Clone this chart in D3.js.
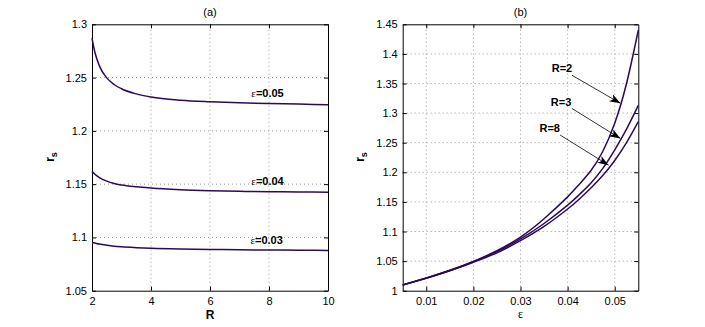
<!DOCTYPE html>
<html>
<head>
<meta charset="utf-8">
<script src="https://cdn.jsdelivr.net/npm/d3@7/dist/d3.min.js"></script>
<style>
body { margin: 0; background: #fff; }
text { font-family: "Liberation Sans", Arial, Helvetica, sans-serif; }
</style>
</head>
<body>
<svg></svg>
<script>
// ---- panel (a): r_s against R for three eps values
var rValues = [2, 2.1, 2.25, 2.5, 2.75, 3, 3.5, 4, 5, 6, 7, 8, 9, 10]
var rsEps05 = [1.287, 1.2735, 1.261, 1.2497, 1.2435, 1.2395, 1.2347, 1.2318, 1.2288, 1.2273, 1.2263, 1.2256, 1.2251, 1.2246]
var rsEps04 = [1.162, 1.1593, 1.1562, 1.1528, 1.1506, 1.1492, 1.1475, 1.1463, 1.1448, 1.1439, 1.1433, 1.1429, 1.1427, 1.1425]
var rsEps03 = [1.0953, 1.0947, 1.0938, 1.0927, 1.0918, 1.0912, 1.0904, 1.0898, 1.0891, 1.0887, 1.0884, 1.0882, 1.0880, 1.0878]
var epsLabels = ["0.05", "0.04", "0.03"]
// label centres in data units [R, r_s]
var epsLabelPos = [[7.95, 1.2356], [7.95, 1.1524], [7.92, 1.0978]]
var aXTicks = [2, 4, 6, 8, 10]
var aYTicks = [1.05, 1.1, 1.15, 1.2, 1.25, 1.3]

// ---- panel (b): r_s against eps for three R values
var epsValues = [0.005, 0.01, 0.015, 0.02, 0.025, 0.03, 0.035, 0.04, 0.0425, 0.045, 0.0475, 0.05, 0.0525, 0.055]
var rsR2 = [1.0096, 1.0215, 1.0345, 1.0495, 1.0675, 1.0905, 1.1215, 1.1585, 1.180, 1.2035, 1.236, 1.283, 1.350, 1.44]
var rsR3 = [1.0096, 1.0212, 1.034, 1.049, 1.066, 1.0875, 1.1135, 1.1445, 1.1625, 1.1825, 1.207, 1.238, 1.273, 1.313]
var rsR8 = [1.0096, 1.021, 1.0335, 1.048, 1.064, 1.0845, 1.1085, 1.138, 1.155, 1.174, 1.195, 1.220, 1.250, 1.2855]
var rLabels = ["R=2", "R=3", "R=8"]
// annotation: label centre, arrow start, arrow tip (data units [eps, r_s])
var rLabelPos = [[0.0388, 1.376], [0.0386, 1.3193], [0.0362, 1.2743]]
var rArrowFrom = [[0.0409, 1.364], [0.0409, 1.308], [0.0384, 1.263]]
var rArrowTo = [[0.0512, 1.3166], [0.0512, 1.257], [0.0487, 1.212]]
var bXTicks = [0.01, 0.02, 0.03, 0.04, 0.05]
var bYTicks = [1, 1.05, 1.1, 1.15, 1.2, 1.25, 1.3, 1.35, 1.4, 1.45]

var width = 705
var height = 327
var lineColor = "#2c0a5a"
var plotTop = 24.3, plotBottom = 290.7

var svg = d3.select('svg').attr('width', width).attr('height', height)

svg.append('defs').append('marker')
  .attr('id', 'head')
  .attr('markerUnits', 'userSpaceOnUse')
  .attr('markerWidth', 11)
  .attr('markerHeight', 8)
  .attr('refX', 11)
  .attr('refY', 4)
  .attr('orient', 'auto')
  .append('path')
  .attr('d', 'M0,0 L11,4 L0,8 L3,4 z')
  .attr('fill', '#000')

function fmt(v) {
  return String(+v.toFixed(2))
}

function drawFrame(g, x, y, xTicks, yTicks) {
  var x0 = x.range()[0], x1 = x.range()[1]
  var y0 = y.range()[0], y1 = y.range()[1]
  // dotted grid
  g.append('g').selectAll('line')
    .data(xTicks.filter(function(t) { return x(t) > x0 + 1 && x(t) < x1 - 1 }))
    .enter().append('line')
    .attr('x1', function(t) { return x(t) }).attr('x2', function(t) { return x(t) })
    .attr('y1', y0).attr('y2', y1)
    .attr('stroke', '#999').attr('stroke-dasharray', '1,3')
  g.append('g').selectAll('line')
    .data(yTicks.filter(function(t) { return y(t) < y0 - 1 && y(t) > y1 + 1 }))
    .enter().append('line')
    .attr('y1', function(t) { return y(t) }).attr('y2', function(t) { return y(t) })
    .attr('x1', x0).attr('x2', x1)
    .attr('stroke', '#999').attr('stroke-dasharray', '1,3')
  // axes with inward ticks, mirrored on top and right
  var axB = g.append('g').attr('transform', 'translate(0,' + y0 + ')')
    .call(d3.axisBottom(x).tickValues(xTicks).tickSizeInner(-4).tickSizeOuter(0).tickPadding(7).tickFormat(fmt))
  var axT = g.append('g').attr('transform', 'translate(0,' + y1 + ')')
    .call(d3.axisTop(x).tickValues(xTicks).tickSizeInner(-4).tickSizeOuter(0).tickFormat(''))
  var axL = g.append('g').attr('transform', 'translate(' + x0 + ',0)')
    .call(d3.axisLeft(y).tickValues(yTicks).tickSizeInner(-4).tickSizeOuter(0).tickPadding(5).tickFormat(fmt))
  var axR = g.append('g').attr('transform', 'translate(' + x1 + ',0)')
    .call(d3.axisRight(y).tickValues(yTicks).tickSizeInner(-4).tickSizeOuter(0).tickFormat(''))
  ;[axB, axT, axL, axR].forEach(function(a) {
    a.selectAll('text').attr('font-size', 11).attr('fill', '#000')
      .style('font-family', '"Liberation Sans", Arial, sans-serif')
    a.selectAll('line').attr('stroke', '#000')
    a.select('.domain').attr('stroke', '#000')
  })
}

function drawCurves(g, x, y, xs, seriesList, curve) {
  var line = d3.line()
    .x(function(d) { return x(d[0]) })
    .y(function(d) { return y(d[1]) })
    .curve(curve)
  g.append('g').selectAll('path')
    .data(seriesList)
    .enter().append('path')
    .attr('d', function(s) {
      return line(xs.map(function(v, i) { return [v, s[i]] }))
    })
    .attr('fill', 'none')
    .attr('stroke', lineColor)
    .attr('stroke-width', 1.5)
}

function ylabel(g, cx, cy) {
  var t = g.append('text')
    .attr('transform', 'translate(' + cx + ',' + cy + ') rotate(-90)')
    .attr('text-anchor', 'middle')
    .attr('font-size', 12)
    .attr('font-weight', 'bold')
  t.append('tspan').text('r')
  t.append('tspan').attr('dy', 3).attr('font-size', 9).text('s')
}

// ---- panel (a)
var xa = d3.scaleLinear().domain([2, 10]).range([92, 328])
var ya = d3.scaleLinear().domain([1.05, 1.3]).range([plotBottom, plotTop])
var ga = svg.append('g')
drawFrame(ga, xa, ya, aXTicks, aYTicks)
drawCurves(ga, xa, ya, rValues, [rsEps05, rsEps04, rsEps03], d3.curveMonotoneX)

epsLabels.forEach(function(lab, i) {
  var t = ga.append('text')
    .attr('x', xa(epsLabelPos[i][0]))
    .attr('y', ya(epsLabelPos[i][1]))
    .attr('dy', '0.35em')
    .attr('text-anchor', 'middle')
    .attr('font-size', 11)
  t.append('tspan').style('font-family', '"Liberation Serif", serif').text('\u03b5')
  t.append('tspan').attr('font-weight', 'bold').text('=' + lab)
})

ga.append('text').attr('x', (xa.range()[0] + xa.range()[1]) / 2).attr('y', 12.5)
  .attr('dy', '0.35em').attr('text-anchor', 'middle').attr('font-size', 11).text('(a)')
ga.append('text').attr('x', (xa.range()[0] + xa.range()[1]) / 2).attr('y', 319)
  .attr('text-anchor', 'middle').attr('font-size', 12).attr('font-weight', 'bold').text('R')
ylabel(ga, 54, 157)

// ---- panel (b)
var xb = d3.scaleLinear().domain([0.005, 0.055]).range([402.7, 638.3])
var yb = d3.scaleLinear().domain([1, 1.45]).range([plotBottom, plotTop])
var gb = svg.append('g')
drawFrame(gb, xb, yb, bXTicks, bYTicks)
drawCurves(gb, xb, yb, epsValues, [rsR2, rsR3, rsR8], d3.curveNatural)

rLabels.forEach(function(lab, i) {
  gb.append('line')
    .attr('x1', xb(rArrowFrom[i][0])).attr('y1', yb(rArrowFrom[i][1]))
    .attr('x2', xb(rArrowTo[i][0])).attr('y2', yb(rArrowTo[i][1]))
    .attr('stroke', '#000').attr('stroke-width', 0.8)
    .attr('marker-end', 'url(#head)')
  gb.append('text')
    .attr('x', xb(rLabelPos[i][0]))
    .attr('y', yb(rLabelPos[i][1]))
    .attr('dy', '0.35em')
    .attr('text-anchor', 'middle')
    .attr('font-size', 11)
    .attr('font-weight', 'bold')
    .text(lab)
})

gb.append('text').attr('x', (xb.range()[0] + xb.range()[1]) / 2).attr('y', 12.5)
  .attr('dy', '0.35em').attr('text-anchor', 'middle').attr('font-size', 11).text('(b)')
gb.append('text').attr('x', (xb.range()[0] + xb.range()[1]) / 2).attr('y', 318)
  .attr('text-anchor', 'middle').attr('font-size', 12)
  .style('font-family', '"Liberation Serif", serif').text('\u03b5')
ylabel(gb, 364, 157)
</script>
</body>
</html>
